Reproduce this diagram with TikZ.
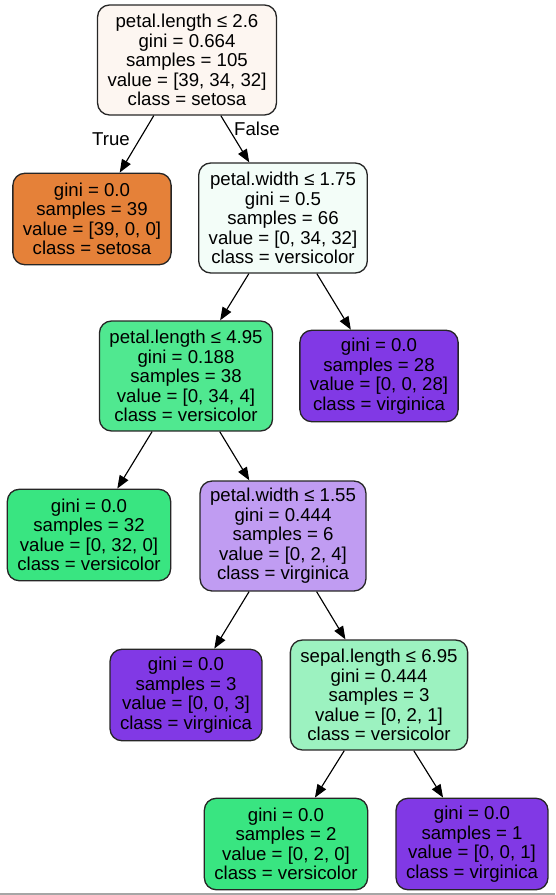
\documentclass[tikz,border=0pt]{standalone}
\usepackage{fontspec}
\setmainfont{Liberation Sans}
\usetikzlibrary{arrows.meta}

\definecolor{setosafull}{HTML}{E58139}
\definecolor{versifull}{HTML}{39E581}
\definecolor{virgifull}{HTML}{8139E5}
\definecolor{rootfill}{HTML}{FDF6F1}
\definecolor{pwfill}{HTML}{F3FDF8}
\definecolor{plfill}{HTML}{50E890}
\definecolor{pwtwofill}{HTML}{C09CF2}
\definecolor{slfill}{HTML}{9CF2C0}

\tikzset{
  treebox/.style={draw=black!85, line width=0.75pt, rounded corners=0.24cm,
    align=center, inner xsep=0.2cm, inner ysep=0pt,
    font=\fontsize{10.6pt}{11.1pt}\selectfont},
  splitbox/.style={treebox, minimum height=2.2cm},
  leafbox/.style={treebox, minimum height=1.83cm},
  treeedge/.style={line width=0.65pt, -{Triangle[length=0.26cm,width=0.2cm]}},
  edgelabel/.style={font=\fontsize{10.6pt}{11.1pt}\selectfont, inner sep=0pt}
}

\begin{document}
\begin{tikzpicture}[x=0.02cm,y=-0.02cm]

\def\LEQ{≤}
	\useasboundingbox (0,0) rectangle (555,895);
	\draw[gray!70, line width=0.04cm] (0,894) -- (555,894);

	% splits
	\node[splitbox, fill=rootfill] (root) at (187,60)
		{petal.length \LEQ{} 2.6\\gini = 0.664\\samples = 105\\value = [39, 34, 32]\\class = setosa};
	\node[splitbox, fill=pwfill] (pwidth) at (283,218)
		{petal.width \LEQ{} 1.75\\gini = 0.5\\samples = 66\\value = [0, 34, 32]\\class = versicolor};
	\node[splitbox, fill=plfill] (plength) at (186,376)
		{petal.length \LEQ{} 4.95\\gini = 0.188\\samples = 38\\value = [0, 34, 4]\\class = versicolor};
	\node[splitbox, fill=pwtwofill] (pwidthtwo) at (283,536)
		{petal.width \LEQ{} 1.55\\gini = 0.444\\samples = 6\\value = [0, 2, 4]\\class = virginica};
	\node[splitbox, fill=slfill] (slength) at (379,695)
		{sepal.length \LEQ{} 6.95\\gini = 0.444\\samples = 3\\value = [0, 2, 1]\\class = versicolor};

	% leaves
	\node[leafbox, fill=setosafull] (leafset) at (92,219)
		{gini = 0.0\\samples = 39\\value = [39, 0, 0]\\class = setosa};
	\node[leafbox, fill=virgifull] (leafvirA) at (379,376)
		{gini = 0.0\\samples = 28\\value = [0, 0, 28]\\class = virginica};
	\node[leafbox, fill=versifull] (leafverA) at (89,535)
		{gini = 0.0\\samples = 32\\value = [0, 32, 0]\\class = versicolor};
	\node[leafbox, fill=virgifull] (leafvirB) at (186,695)
		{gini = 0.0\\samples = 3\\value = [0, 0, 3]\\class = virginica};
	\node[leafbox, fill=versifull] (leafverB) at (286,844)
		{gini = 0.0\\samples = 2\\value = [0, 2, 0]\\class = versicolor};
	\node[leafbox, fill=virgifull] (leafvirC) at (472,844)
		{gini = 0.0\\samples = 1\\value = [0, 0, 1]\\class = virginica};

	% edges
	\draw[treeedge] (root) -- (leafset);
	\draw[treeedge] (root) -- (pwidth);
	\draw[treeedge] (pwidth) -- (plength);
	\draw[treeedge] (pwidth) -- (leafvirA);
	\draw[treeedge] (plength) -- (leafverA);
	\draw[treeedge] (plength) -- (pwidthtwo);
	\draw[treeedge] (pwidthtwo) -- (leafvirB);
	\draw[treeedge] (pwidthtwo) -- (slength);
	\draw[treeedge] (slength) -- (leafverB);
	\draw[treeedge] (slength) -- (leafvirC);

	\node[edgelabel] (truelbl) at (111,139) {True};
	\node[edgelabel] (falselbl) at (257,129) {False};

\end{tikzpicture}
\end{document}
